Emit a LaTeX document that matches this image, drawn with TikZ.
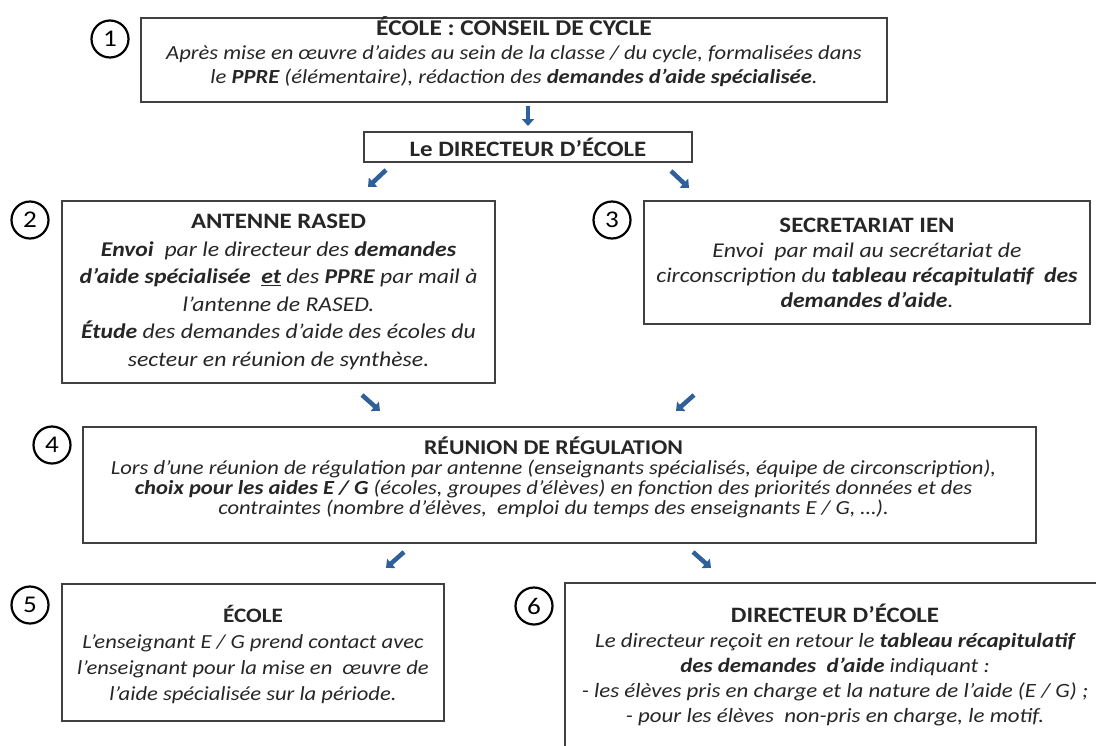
\documentclass[tikz,border=0pt]{standalone}
\usepackage{fontspec}
\setmainfont{Carlito}[FakeStretch=1.13]
\usepackage{xcolor}
\usetikzlibrary{shapes, positioning, arrows.meta}
\definecolor{arrowblue}{HTML}{30609A}
\definecolor{boxline}{HTML}{404040}
\newcommand{\fs}[2]{\fontsize{#1}{#2}\selectfont}
\newcommand{\ttl}[1]{{\upshape\bfseries #1}}

\begin{document}
\begin{tikzpicture}[x=1pt, y=-1pt,
    box/.style={draw=boxline, line width=1.3pt, inner sep=0pt},
    txt/.style={inner sep=0pt, align=center, text=black!85},
    num/.style={circle, draw=black, line width=2.2pt, minimum size=37pt, inner sep=0pt, font=\fs{24}{24}},
    blk/.style={draw=arrowblue, line width=4.5pt, -{Triangle[length=7pt, width=12pt]}}]
        \useasboundingbox (0,0) rectangle (1096,745);
        \fill[white] (0,0) rectangle (1096,745);

        \node[box, minimum width=746pt, minimum height=84pt] (cycle) at (514, 60) {};
        \node[box, minimum width=328pt, minimum height=30pt] (dir) at (528, 147) {};
        \node[box, minimum width=433pt, minimum height=182pt] (rased) at (278.5, 292) {};
        \node[box, minimum width=446pt, minimum height=123pt] (ien) at (867, 262.5) {};
        \node[box, minimum width=953pt, minimum height=116pt] (regul) at (559.5, 485) {};
        \node[box, minimum width=382pt, minimum height=137pt] (ecole) at (253, 652.5) {};
        \node[box, minimum width=550pt, minimum height=176pt] (retour) at (840, 671) {};

        \node[txt, font=\fs{20}{24}\itshape] (cycletxt) at ([yshift=8pt]cycle.center)
            {\ttl{\fs{22.5}{24}ÉCOLE : CONSEIL DE CYCLE}\\
             Après mise en œuvre d’aides au sein de la classe / du cycle, formalisées dans\\
             le \textbf{PPRE} (élémentaire), rédaction des \textbf{demandes d’aide spécialisée}.};
        \node[txt, font=\fs{22}{24}\bfseries] (dirtxt) at (dir.center) {Le DIRECTEUR D’ÉCOLE};
        \node[txt, font=\fs{21}{27.5}\itshape] (rasedtxt) at (rased.center)
            {\ttl{\fs{22}{27.5}ANTENNE RASED}\\
             \textbf{Envoi}\ \ par le directeur des \textbf{demandes}\\
             \textbf{d’aide spécialisée}\ \ \underline{\textbf{et}} des \textbf{PPRE} par mail à\\
             l’antenne de RASED.\\
             \textbf{Étude} des demandes d’aide des écoles du\\
             secteur en réunion de synthèse.};
        \node[txt, font=\fs{21}{25}\itshape] (ientxt) at (ien.center)
            {\ttl{\fs{22}{25}SECRETARIAT IEN}\\
             Envoi\ \ par mail au secrétariat de\\
             circonscription du \textbf{tableau récapitulatif\ \ des}\\
             \textbf{demandes d’aide}.};
        \node[txt, font=\fs{20}{20}\itshape] (regultxt) at ([xshift=-6pt, yshift=8pt]regul.center)
            {\ttl{\fs{21}{20}RÉUNION DE RÉGULATION}\\
             Lors d’une réunion de régulation par antenne (enseignants spécialisés, équipe de circonscription),\\
             \textbf{choix pour les aides E / G} (écoles, groupes d’élèves) en fonction des priorités données et des\\
             contraintes (nombre d’élèves,\ \ emploi du temps des enseignants E / G, …).};
        \node[txt, font=\fs{20}{26}\itshape] (ecoletxt) at ([yshift=-2pt]ecole.center)
            {\ttl{\fs{20.5}{26}ÉCOLE}\\
             L’enseignant E / G prend contact avec\\
             l’enseignant pour la mise en\ \ œuvre de\\
             l’aide spécialisée sur la période.};
        \node[txt, font=\fs{20.3}{25}\itshape] (retourtxt) at ([xshift=-5pt, yshift=6pt]retour.center)
            {\ttl{\fs{22}{25}DIRECTEUR D’ÉCOLE}\\
             Le directeur reçoit en retour le \textbf{tableau récapitulatif}\\
             \textbf{des demandes\ \ d’aide} indiquant :\\
             - les élèves pris en charge et la nature de l’aide (E / G) ;\\
             - pour les élèves\ \ non-pris en charge, le motif.};

        \node[num] (s1) at (110, 39) {1};
        \node[num] (s2) at (30, 220) {2};
        \node[num] (s3) at (612, 220) {3};
        \node[num] (s4) at (52, 445) {4};
        \node[num] (s5) at (30, 605) {5};
        \node[num] (s6) at (534, 606) {6};

        \coordinate (a1) at (528, 106);  \coordinate (b1) at (528, 126);
        \coordinate (a2) at (386, 170);  \coordinate (b2) at (368, 187);
        \coordinate (a3) at (671, 171);  \coordinate (b3) at (689, 188);
        \coordinate (a4) at (362, 395);  \coordinate (b4) at (380, 411);
        \coordinate (a5) at (694, 395);  \coordinate (b5) at (676, 411);
        \coordinate (a6) at (404, 552);  \coordinate (b6) at (386, 568);
        \coordinate (a7) at (693, 552);  \coordinate (b7) at (711, 568);

        \draw[blk] (a1) -- (b1);
        \draw[blk] (a2) -- (b2);
        \draw[blk] (a3) -- (b3);
        \draw[blk] (a4) -- (b4);
        \draw[blk] (a5) -- (b5);
        \draw[blk] (a6) -- (b6);
        \draw[blk] (a7) -- (b7);
    \end{tikzpicture}
\end{document}
